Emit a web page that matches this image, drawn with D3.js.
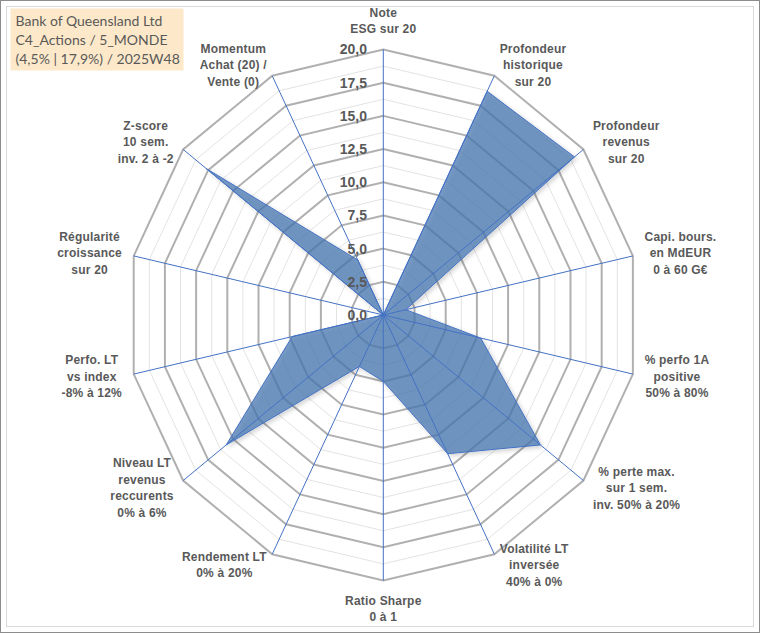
<!DOCTYPE html>
<html>
<head>
<meta charset="utf-8">
<script src="https://cdn.jsdelivr.net/npm/d3@7"></script>
<style>
html,body{margin:0;padding:0;background:#fff;}
svg{display:block;}
</style>
</head>
<body>
<svg id="chart" width="760" height="633"></svg>
<script>
// ---- data ----
const categories = [
  ["Note", "ESG sur 20"],
  ["Profondeur", "historique", "sur 20"],
  ["Profondeur", "revenus", "sur 20"],
  ["Capi. bours.", "en MdEUR", "0 à 60 G€"],
  ["% perfo 1A", "positive", "50% à 80%"],
  ["% perte max.", "sur 1 sem.", "inv. 50% à 20%"],
  ["Volatilité LT", "inversée", "40% à 0%"],
  ["Ratio Sharpe", "0 à 1"],
  ["Rendement LT", "0% à 20%"],
  ["Niveau LT", "revenus", "reccurents", "0% à 6%"],
  ["Perfo. LT", "vs index", "-8% à 12%"],
  ["Régularité", "croissance", "sur 20"],
  ["Z-score", "10 sem.", "inv. 2 à -2"],
  ["Momentum", "Achat (20) /", "Vente (0)"]
];
const values = [0, 18.7, 19.1, 1.8, 7.8, 15.7, 11.6, 5.0, 4.3, 15.7, 7.3, 0, 17.7, 4.6];
const tickValues = [0, 2.5, 5, 7.5, 10, 12.5, 15, 17.5, 20];
const tickLabels = ["0,0", "2,5", "5,0", "7,5", "10,0", "12,5", "15,0", "17,5", "20,0"];
const minorValues = [1.25, 3.75, 6.25, 8.75, 11.25, 13.75, 16.25, 18.75];
const titleLines = ["Bank of Queensland Ltd", "C4_Actions / 5_MONDE", "(4,5% | 17,9%) / 2025W48"];

// ---- layout ----
const W = 760, H = 633;
const cx = 383.3, cy = 315;
const svg = d3.select("#chart");

const n = categories.length;
const angle = d3.scaleLinear().domain([0, n]).range([0, 2 * Math.PI]);
const rX = d3.scaleLinear().domain([0, 20]).range([0, 256]);
const rY = d3.scaleLinear().domain([0, 20]).range([0, 265.5]);
const px = (i, v) => cx + rX(v) * Math.sin(angle(i));
const py = (i, v) => cy - rY(v) * Math.cos(angle(i));

// frame
svg.append("rect").attr("x", 0.5).attr("y", 0.5).attr("width", W - 1).attr("height", H - 1)
  .attr("fill", "#fff").attr("stroke", "#8c8c8c").attr("stroke-width", 1);
svg.append("rect").attr("x", 6.5).attr("y", 6.5).attr("width", W - 13).attr("height", H - 13)
  .attr("fill", "none").attr("stroke", "#d9d9d9").attr("stroke-width", 1);

const ring = v => d3.range(n).map(i => [px(i, v), py(i, v)]);
const closed = d3.line().curve(d3.curveLinearClosed);

// minor rings
svg.append("g").selectAll("path").data(minorValues).join("path")
  .attr("d", v => closed(ring(v)))
  .attr("fill", "none").attr("stroke", "#e3e3e3").attr("stroke-width", 1);
// major rings
svg.append("g").selectAll("path").data(tickValues.filter(v => v > 0)).join("path")
  .attr("d", v => closed(ring(v)))
  .attr("fill", "none").attr("stroke", "#b0b0b0").attr("stroke-width", 2);

// data polygon
const defs = svg.append("defs");
const f = defs.append("filter").attr("id", "sh").attr("x", "-10%").attr("y", "-10%").attr("width", "130%").attr("height", "130%");
f.append("feDropShadow").attr("dx", 2).attr("dy", 2).attr("stdDeviation", 2).attr("flood-color", "#000").attr("flood-opacity", 0.22);

svg.append("path")
  .attr("d", closed(values.map((v, i) => [px(i, v), py(i, v)])))
  .attr("fill", "#4676b0").attr("fill-opacity", 0.72)
  .attr("stroke", "#4472c4").attr("stroke-width", 1)
  .attr("filter", "url(#sh)");

// axis spokes
svg.append("g").selectAll("line").data(d3.range(n)).join("line")
  .attr("x1", cx).attr("y1", cy)
  .attr("x2", i => px(i, 20)).attr("y2", i => py(i, 20))
  .attr("stroke", "#4472c4").attr("stroke-width", 1);

// tick labels
svg.append("g").selectAll("text").data(tickValues).join("text")
  .attr("x", 367).attr("y", v => cy - rY(v))
  .attr("dy", "0.35em")
  .attr("text-anchor", "end")
  .attr("font-family", "Liberation Sans, Arial, sans-serif")
  .attr("font-weight", "bold").attr("font-size", 14)
  .attr("fill", "#595959")
  .text((v, i) => tickLabels[i]);

// category labels
const lh = 16.5, gap = 12;
const lg = svg.append("g")
  .attr("font-family", "Liberation Sans, Arial, sans-serif")
  .attr("font-weight", "bold").attr("font-size", 12).attr("fill", "#595959")
  .attr("letter-spacing", 0.2);
categories.forEach((lines, i) => {
  const t = lg.append("text").attr("text-anchor", "middle");
  lines.forEach((s, k) => t.append("tspan").attr("x", 0).attr("y", k * lh).text(s));
  const bb = t.node().getBBox();
  const w = bb.width;
  const h = lines.length * lh;
  const s = Math.sin(angle(i)), c = Math.cos(angle(i));
  const sg = Math.abs(s) < 1e-6 ? 0 : Math.sign(s);
  let ccx = px(i, 20) + sg * w / 2 + gap * s;
  let ccy = py(i, 20) - gap * c;
  if (sg === 0) ccy = py(i, 20) - Math.sign(c) * (h / 2 + gap);
  t.attr("transform", `translate(${ccx},${ccy - h / 2 + lh / 2})`);
  t.selectAll("tspan").attr("dy", "0.35em");
});

// title box
svg.append("rect").attr("x", 10.5).attr("y", 8.5).attr("width", 173).attr("height", 62)
  .attr("fill", "#fde9c9");
svg.append("g").selectAll("text").data(titleLines).join("text")
  .attr("x", 15.5).attr("y", (d, i) => 26 + i * 19)
  .attr("font-family", "Lato, Carlito, sans-serif").attr("font-size", 14)
  .attr("fill", "#595959")
  .text(d => d);
</script>
</body>
</html>
